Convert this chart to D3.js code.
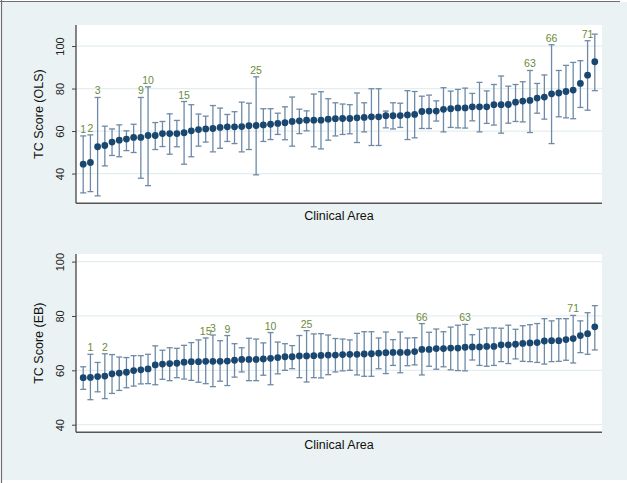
<!DOCTYPE html>
<html><head><meta charset="utf-8">
<script src="https://cdn.jsdelivr.net/npm/d3@7"></script>
<style>body{margin:0;background:#fff;}svg{display:block;font-family:"Liberation Sans",Arial,Helvetica,sans-serif;}</style>
</head><body><svg id="c" width="627" height="483"></svg>
<script>
// ---- data ----
const olsEst = [44.4,45.2,52.6,53.2,54.8,55.7,56.2,57.0,57.0,57.9,57.9,58.8,58.8,58.8,59.2,60.1,60.7,61.0,61.2,61.7,62.0,62.0,62.1,62.5,62.6,62.9,63.2,63.6,63.9,64.5,64.8,65.1,65.1,65.1,65.6,65.8,65.9,65.9,66.2,66.4,66.7,66.7,67.2,67.2,67.3,67.6,67.8,69.2,69.4,69.4,70.2,70.5,70.9,70.9,71.4,71.4,71.4,72.4,72.4,72.5,73.6,74.1,74.4,75.5,76.0,77.5,77.9,78.6,79.3,82.4,86.3,92.6];
const olsLo  = [30.9,31.5,29.5,43.6,48.5,47.9,50.8,49.9,37.8,34.3,51.3,52.7,49.1,52.6,44.4,47.9,52.9,54.8,50.2,51.9,55.1,54.1,50.2,51.3,39.4,55.1,56.0,58.4,55.9,52.9,58.8,60.1,52.6,51.6,55.7,57.7,58.4,58.7,54.6,59.6,53.2,53.2,61.5,61.0,61.7,56.0,56.8,61.2,61.2,64.7,59.6,61.7,61.5,61.4,64.8,59.6,63.6,62.8,59.0,63.7,64.5,64.3,59.3,68.4,65.6,54.1,66.7,66.2,65.8,71.1,69.8,79.0];
const olsHi  = [57.7,58.2,75.8,62.3,61.0,62.9,60.1,63.2,75.8,80.8,64.0,64.5,68.1,65.0,73.9,72.4,68.0,67.0,72.0,70.8,67.8,69.1,73.6,73.1,85.5,70.5,70.5,68.4,71.4,76.0,70.3,69.5,77.4,78.5,75.2,73.3,72.7,72.4,77.9,73.3,79.9,79.9,69.4,73.3,73.1,79.0,78.6,76.4,76.9,74.2,80.4,78.8,79.6,80.2,77.7,82.9,78.9,81.9,85.9,81.1,81.9,83.2,88.5,82.4,86.4,100.6,88.5,90.9,92.3,93.1,102.5,105.6];
const ebEst  = [57.3,57.4,57.7,57.9,58.7,59.0,59.3,59.9,60.2,60.5,62.0,62.3,62.5,62.6,63.0,63.2,63.2,63.3,63.3,63.3,63.4,63.7,64.0,64.0,64.0,64.2,64.4,64.7,65.0,65.0,65.3,65.3,65.4,65.5,65.6,65.6,65.8,65.9,65.9,66.0,66.1,66.3,66.5,66.6,66.6,66.6,66.9,67.7,67.7,68.0,68.0,68.2,68.2,68.5,68.6,68.6,68.8,68.8,69.4,69.4,69.6,69.9,70.1,70.2,70.8,70.9,70.9,71.3,71.7,72.8,73.5,76.0];
const ebLo   = [53.0,49.2,52.1,49.6,51.5,52.6,53.6,54.2,55.0,55.1,54.7,56.7,56.2,57.3,56.8,56.3,55.6,55.1,54.0,56.0,54.4,57.5,59.4,56.2,56.2,58.2,54.7,58.7,60.0,60.6,57.3,55.7,57.3,57.2,58.4,59.4,59.8,60.0,58.3,57.8,57.8,60.6,58.8,61.8,59.1,61.7,62.0,58.3,61.5,60.4,61.3,60.2,59.9,59.8,63.8,61.8,61.5,61.8,63.2,62.5,64.2,63.3,63.2,62.9,62.3,63.2,63.3,63.7,62.7,66.5,65.9,67.5];
const ebHi   = [61.3,65.9,62.9,66.1,65.8,64.9,64.7,65.4,65.4,65.9,69.0,67.4,68.3,68.1,69.2,70.2,71.2,71.9,73.0,70.9,72.8,69.8,68.3,71.8,71.5,70.1,73.9,70.4,69.8,69.1,72.8,74.6,73.4,73.5,73.0,71.7,71.5,71.2,73.6,74.2,74.2,71.9,74.1,71.3,74.1,71.9,72.0,77.2,74.0,75.2,74.2,75.9,76.6,76.9,73.1,75.1,75.6,75.6,75.5,76.6,75.1,76.4,76.8,77.2,79.0,78.2,79.0,79.0,80.2,78.2,81.2,83.8];
const labelText   = ["1","2","3","9","10","15","25","63","66","71"];
const olsLabelPos = [1,2,3,9,10,15,25,63,66,71];
const ebLabelPos  = [2,4,19,21,27,18,32,54,48,69];
const yTicks = [40,60,80,100];
const yTitles = ["TC Score (OLS)","TC Score (EB)"];
const xTitle = "Clinical Area";

// ---- drawing ----
const svg = d3.select("#c");
svg.append("rect").attr("x",2).attr("y",2).attr("width",625).attr("height",478).attr("fill","#eaf2f3");
svg.append("line").attr("x1",1.5).attr("x2",1.5).attr("y1",0).attr("y2",483).attr("stroke","#6f6f6f").attr("stroke-width",1.2);
svg.append("line").attr("x1",0).attr("x2",620).attr("y1",1.5).attr("y2",1.5).attr("stroke","#6f6f6f").attr("stroke-width",1.2);

const n = olsEst.length;
const x = d3.scaleLinear().domain([0, n+1]).range([76, 602]);

function panel(top, bottom, domain, est, lo, hi, labPos, title){
  const y = d3.scaleLinear().domain(domain).range([bottom, top]);
  const g = svg.append("g");
  g.append("rect").attr("x",76).attr("y",top).attr("width",602-76).attr("height",bottom-top).attr("fill","#ffffff");
  g.selectAll(".grid").data(yTicks).join("line")
    .attr("x1",76).attr("x2",602).attr("y1",d=>y(d)).attr("y2",d=>y(d))
    .attr("stroke","#e4eef0").attr("stroke-width",1.2);
  const ax = g.append("g").attr("transform","translate(76,0)")
    .call(d3.axisLeft(y).tickValues(yTicks).tickSize(4).tickSizeOuter(0).tickPadding(0));
  ax.select(".domain").attr("stroke","#444").attr("stroke-width",1.3).attr("d",`M0,${top}V${bottom}`);
  ax.selectAll(".tick line").attr("stroke","#444");
  ax.selectAll(".tick text").attr("transform","rotate(-90)").attr("x",0).attr("y",-15)
    .attr("dy","0").attr("text-anchor","middle").attr("dominant-baseline","middle")
    .attr("font-size",11).attr("fill","#222").style("font-family","'Liberation Sans',Arial,sans-serif");
  g.append("line").attr("x1",76).attr("x2",602).attr("y1",bottom).attr("y2",bottom).attr("stroke","#555").attr("stroke-width",1.6);
  g.append("text").attr("transform",`translate(40,${(top+bottom)/2}) rotate(-90)`).attr("text-anchor","middle")
    .attr("dominant-baseline","middle").attr("font-size",12.5).attr("fill","#111").text(title);
  g.append("text").attr("x",(76+602)/2).attr("y",bottom+17).attr("text-anchor","middle")
    .attr("font-size",12.5).attr("fill","#111").text(xTitle);
  const idx = d3.range(n);
  const col = "#6e8aa6";
  g.selectAll(".eb").data(idx).join("line").attr("x1",i=>x(i+1)).attr("x2",i=>x(i+1))
    .attr("y1",i=>y(lo[i])).attr("y2",i=>y(hi[i])).attr("stroke",col).attr("stroke-width",1.3);
  g.selectAll(".ct").data(idx).join("line").attr("x1",i=>x(i+1)-3).attr("x2",i=>x(i+1)+3)
    .attr("y1",i=>y(hi[i])).attr("y2",i=>y(hi[i])).attr("stroke",col).attr("stroke-width",1.3);
  g.selectAll(".cb").data(idx).join("line").attr("x1",i=>x(i+1)-3).attr("x2",i=>x(i+1)+3)
    .attr("y1",i=>y(lo[i])).attr("y2",i=>y(lo[i])).attr("stroke",col).attr("stroke-width",1.3);
  g.selectAll(".dot").data(idx).join("circle").attr("cx",i=>x(i+1)).attr("cy",i=>y(est[i]))
    .attr("r",3.4).attr("fill","#1a476f");
  g.selectAll(".lab").data(labelText).join("text")
    .attr("x",(d,k)=>x(labPos[k])).attr("y",(d,k)=>y(hi[labPos[k]-1])-3)
    .attr("text-anchor","middle").attr("font-size",10.5).attr("fill","#6c8a3a").text(d=>d);
}
panel(25, 203.3, [26, 109.9], olsEst, olsLo, olsHi, olsLabelPos, yTitles[0]);
panel(254, 432.3, [37.2, 102.8], ebEst, ebLo, ebHi, ebLabelPos, yTitles[1]);
</script></body></html>
